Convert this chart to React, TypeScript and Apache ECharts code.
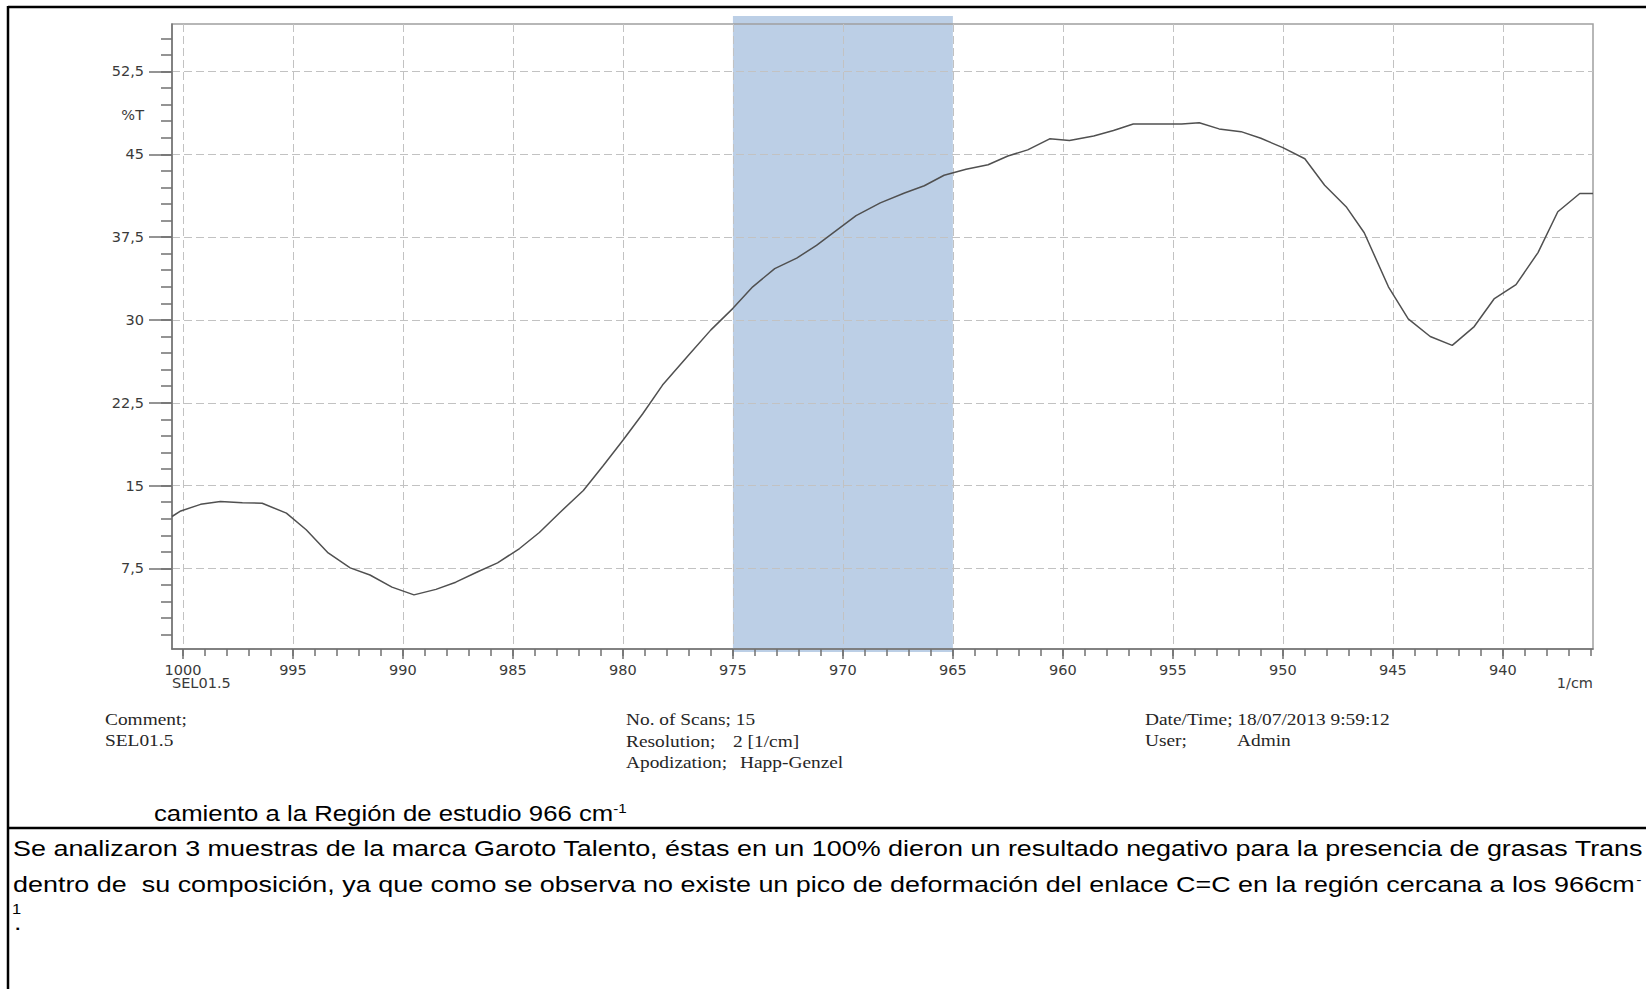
import React, { useEffect, useRef } from "react";
import * as echarts from "echarts";

// ---- data ----
const wavenumbers = [
  1000.5, 1000.1, 999.2, 998.3, 997.3, 996.4, 995.3, 994.4, 993.4, 992.4, 991.5, 990.5, 989.5, 988.5,
  987.6, 986.6, 985.7, 984.7, 983.8, 982.9, 981.8, 980.9, 980.0, 979.1, 978.2, 977.0, 976.0, 975.0,
  974.1, 973.1, 972.1, 971.2, 970.4, 969.4, 968.3, 967.2, 966.3, 965.4, 964.4, 963.4, 962.5, 961.6,
  960.6, 959.7, 958.6, 957.7, 956.8, 955.7, 954.6, 953.8, 952.9, 951.9, 951.0, 950.0, 949.0, 948.1,
  947.1, 946.3, 945.2, 944.3, 943.3, 942.3, 941.3, 940.4, 939.4, 938.4, 937.5, 936.5, 935.9,
];
const transmittance = [
  12.2, 12.7, 13.3, 13.55, 13.45, 13.4, 12.5, 11.0, 8.9, 7.55, 6.9, 5.8, 5.1, 5.6,
  6.25, 7.2, 8.0, 9.3, 10.75, 12.5, 14.55, 16.8, 19.1, 21.5, 24.1, 26.85, 29.1, 31.05,
  33.0, 34.65, 35.6, 36.75, 37.95, 39.45, 40.6, 41.5, 42.15, 43.1, 43.65, 44.05, 44.85, 45.4,
  46.4, 46.25, 46.65, 47.15, 47.75, 47.75, 47.75, 47.85, 47.3, 47.05, 46.45, 45.6, 44.6, 42.2,
  40.2, 37.9, 33.0, 30.1, 28.5, 27.7, 29.4, 31.9, 33.2, 36.1, 39.8, 41.45, 41.45,
];

const xMajorTicks = [1000, 995, 990, 985, 980, 975, 970, 965, 960, 955, 950, 945, 940];
const yMajorTicks = [7.5, 15, 22.5, 30, 37.5, 45, 52.5];
const bandRange = [975, 965];

const xMinorTicks: number[] = [];
for (let v = 1000; v >= 936; v--) xMinorTicks.push(v);
const yMinorTicks: number[] = [];
for (let i = 1; i <= 37; i++) yMinorTicks.push(Math.round(i * 15) / 10);

const yAxisName = "%T";
const xAxisUnit = "1/cm";
const sampleName = "SEL01.5";

const infoLeft = ["Comment;", "SEL01.5"];
const infoMid = ["No. of Scans; 15", "Resolution;", "Apodization;"];
const infoMidValues = ["2 [1/cm]", "Happ-Genzel"];
const infoRight = ["Date/Time; 18/07/2013 9:59:12", "User;"];
const infoRightValue = "Admin";

const captionText = "camiento a la Región de estudio 966 cm";
const paragraph1 =
  "Se analizaron 3 muestras de la marca Garoto Talento, éstas en un 100% dieron un resultado negativo para la presencia de grasas Trans";
const paragraph2 =
  "dentro de  su composición, ya que como se observa no existe un pico de deformación del enlace C=C en la región cercana a los 966cm";

export default function App() {
  const ref = useRef<HTMLDivElement>(null);

  useEffect(() => {
    const chart = echarts.init(ref.current!, null, { renderer: "svg" });
    const AX = "#707070";
    const LBL = "#3a3a3a";
    const X_MIN = 935.9;
    const X_MAX = 1000.5;
    const Y_MIN = 0.2;
    const Y_MAX = 56.8;
    const LABEL_FONT = 14.5;

    const option: any = {
      animation: false,
      grid: {
        left: 172,
        top: 24,
        width: 1421,
        height: 625,
        show: true,
        borderColor: "#a0a0a0",
        borderWidth: 1.5,
        backgroundColor: "transparent",
      },
      xAxis: [
        {
          type: "value",
          inverse: true,
          min: X_MIN,
          max: X_MAX,
          position: "bottom",
          axisLine: { show: true, onZero: false, lineStyle: { color: AX, width: 1.5 } },
          axisTick: { show: true, customValues: xMajorTicks, length: 10, lineStyle: { color: AX, width: 1.5 } },
          axisLabel: {
            customValues: xMajorTicks,
            margin: 13,
            fontFamily: "DejaVu Sans",
            fontSize: LABEL_FONT,
            color: LBL,
            formatter: (v: number) => String(v),
          },
          splitLine: { show: true, lineStyle: { type: [8, 4], color: "#c2c2c2", width: 1 } },
        },
        {
          type: "value",
          inverse: true,
          min: X_MIN,
          max: X_MAX,
          position: "bottom",
          offset: 0,
          axisLine: { show: false, onZero: false },
          axisTick: { show: true, customValues: xMinorTicks, length: 7, lineStyle: { color: AX, width: 1.5 } },
          axisLabel: { show: false },
          splitLine: { show: false },
        },
      ],
      yAxis: [
        {
          type: "value",
          min: Y_MIN,
          max: Y_MAX,
          position: "left",
          axisLine: { show: true, onZero: false, lineStyle: { color: AX, width: 1.5 } },
          axisTick: { show: true, customValues: yMajorTicks, length: 23, lineStyle: { color: AX, width: 1.5 } },
          axisLabel: {
            customValues: yMajorTicks,
            margin: 28,
            fontFamily: "DejaVu Sans",
            fontSize: LABEL_FONT,
            color: LBL,
            formatter: (v: number) => String(v).replace(".", ","),
          },
          splitLine: { show: true, lineStyle: { type: [8, 4], color: "#c2c2c2", width: 1 } },
        },
        {
          type: "value",
          min: Y_MIN,
          max: Y_MAX,
          position: "left",
          offset: 0,
          axisLine: { show: false, onZero: false },
          axisTick: { show: true, customValues: yMinorTicks, length: 11, lineStyle: { color: AX, width: 1.5 } },
          axisLabel: { show: false },
          splitLine: { show: false },
        },
      ],
      series: [
        {
          type: "line",
          xAxisIndex: 0,
          yAxisIndex: 0,
          data: wavenumbers.map((w, i) => [w, transmittance[i]]),
          symbol: "none",
          showSymbol: false,
          lineStyle: { color: "#505050", width: 1.5 },
          z: 5,
        },
      ],
    };
    chart.setOption(option);

    const bx1 = chart.convertToPixel({ xAxisIndex: 0 }, bandRange[0]) as number;
    const bx2 = chart.convertToPixel({ xAxisIndex: 0 }, bandRange[1]) as number;

    const serif = (text: string, x: number, y: number) => ({
      type: "text",
      x,
      y,
      scaleX: 1.14,
      z: 20,
      style: {
        text,
        fontFamily: "Liberation Serif",
        fontSize: 17,
        fill: "#262626",
        textAlign: "left",
        textVerticalAlign: "middle",
      },
    });
    const sans = (text: string, x: number, y: number, size = 22, sx = 1.225) => ({
      type: "text",
      x,
      y,
      scaleX: sx,
      z: 20,
      style: {
        text,
        fontFamily: "Liberation Sans",
        fontSize: size,
        fill: "#000",
        textAlign: "left",
        textVerticalAlign: "middle",
      },
    });
    const richSup = (main: string, sup: string, x: number, y: number, sx: number) => ({
      type: "text",
      x,
      y,
      scaleX: sx,
      z: 20,
      style: {
        text: `{m|${main}}{s|${sup}}`,
        fontFamily: "Liberation Sans",
        fontSize: 22,
        fill: "#000",
        textAlign: "left",
        textVerticalAlign: "middle",
        rich: {
          m: { fontFamily: "Liberation Sans", fontSize: 22, fill: "#000" },
          s: { fontFamily: "Liberation Sans", fontSize: 13, fill: "#000", verticalAlign: "top" },
        },
      },
    });

    chart.setOption({
      graphic: [
        // shaded study region
        {
          type: "rect",
          z: -10,
          shape: { x: bx1, y: 16, width: bx2 - bx1, height: 652 - 16 },
          style: { fill: "#bccfe6" },
        },
        // page borders
        { type: "line", z: 30, shape: { x1: 8, y1: 7, x2: 1646, y2: 7 }, style: { stroke: "#000", lineWidth: 2.5 } },
        { type: "line", z: 30, shape: { x1: 8, y1: 6, x2: 8, y2: 989 }, style: { stroke: "#000", lineWidth: 2.5 } },
        { type: "line", z: 30, shape: { x1: 8, y1: 828, x2: 1646, y2: 828 }, style: { stroke: "#000", lineWidth: 2.5 } },
        // axis captions
        {
          type: "text",
          x: 144,
          y: 115,
          z: 20,
          style: { text: yAxisName, fontFamily: "DejaVu Sans", fontSize: LABEL_FONT, fill: LBL, textAlign: "right", textVerticalAlign: "middle" },
        },
        {
          type: "text",
          x: 172,
          y: 683,
          z: 20,
          style: { text: sampleName, fontFamily: "DejaVu Sans", fontSize: LABEL_FONT, fill: LBL, textAlign: "left", textVerticalAlign: "middle" },
        },
        {
          type: "text",
          x: 1593,
          y: 683,
          z: 20,
          style: { text: xAxisUnit, fontFamily: "DejaVu Sans", fontSize: LABEL_FONT, fill: LBL, textAlign: "right", textVerticalAlign: "middle" },
        },
        // instrument info
        serif(infoLeft[0], 105, 719),
        serif(infoLeft[1], 105, 740),
        serif(infoMid[0], 626, 719),
        serif(infoMid[1], 626, 741),
        serif(infoMid[2], 626, 762),
        serif(infoMidValues[0], 733, 741),
        serif(infoMidValues[1], 740, 762),
        serif(infoRight[0], 1145, 719),
        serif(infoRight[1], 1145, 740),
        serif(infoRightValue, 1237, 740),
        // caption and paragraph
        richSup(captionText, "-1", 154, 813, 1.17),
        sans(paragraph1, 13, 848),
        richSup(paragraph2, "-", 13, 884, 1.225),
        sans("1", 12, 909, 15, 1.1),
        sans(".", 14, 922),
      ],
    });

    return () => chart.dispose();
  }, []);

  return (
    <div
      ref={ref}
      style={{ position: "absolute", left: 0, top: 0, width: 1646, height: 989, background: "#ffffff" }}
    />
  );
}
